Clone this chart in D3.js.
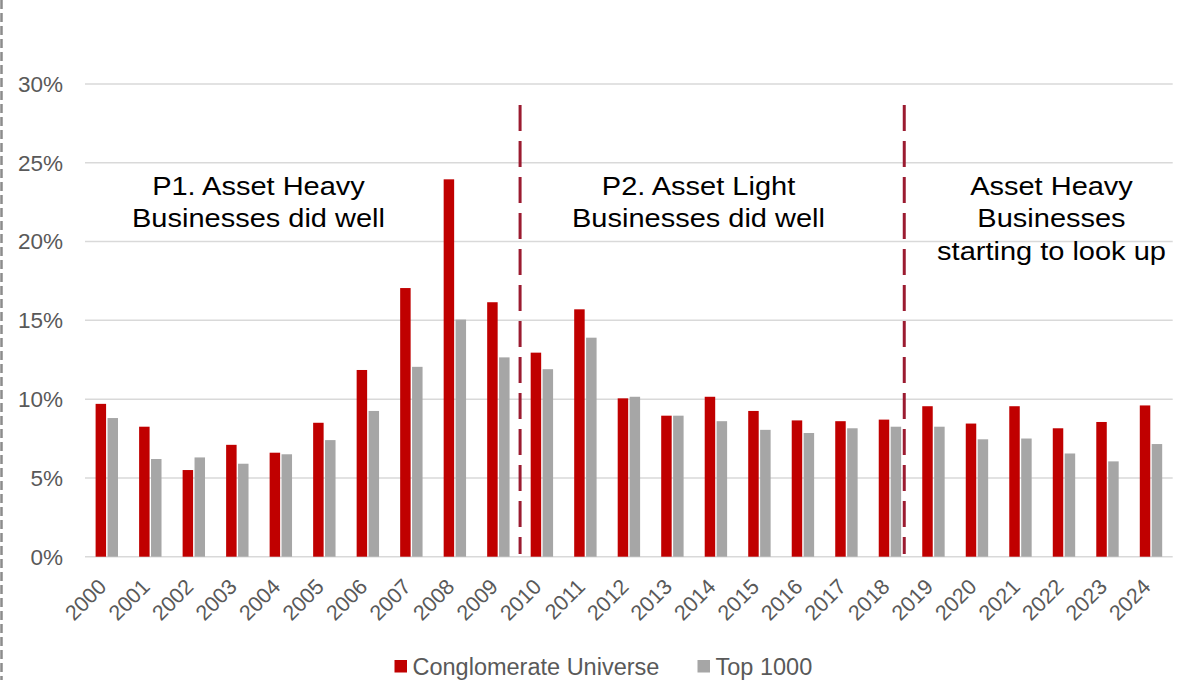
<!DOCTYPE html>
<html>
<head>
<meta charset="utf-8">
<script src="https://cdn.jsdelivr.net/npm/d3@7"></script>
<style>
  body { margin: 0; background: #fff; }
  svg { display: block; font-family: Arial, "Liberation Sans", sans-serif; }
</style>
</head>
<body>
<svg></svg>
<script>
// data (percent)
var years = ["2000","2001","2002","2003","2004","2005","2006","2007","2008","2009","2010","2011","2012",
             "2013","2014","2015","2016","2017","2018","2019","2020","2021","2022","2023","2024"];
var conglomerate = [9.7, 8.25, 5.5, 7.1, 6.6, 8.5, 11.85, 17.05, 23.95, 16.15, 12.95, 15.7, 10.05,
                    8.95, 10.15, 9.25, 8.65, 8.6, 8.7, 9.55, 8.45, 9.55, 8.15, 8.55, 9.6];
var top1000 = [8.8, 6.2, 6.3, 5.9, 6.5, 7.4, 9.25, 12.05, 15.05, 12.65, 11.9, 13.9, 10.15,
               8.95, 8.6, 8.05, 7.85, 8.15, 8.25, 8.25, 7.45, 7.5, 6.55, 6.05, 7.15];
var seriesNames = ["Conglomerate Universe", "Top 1000"];
var yTicks = [0, 5, 10, 15, 20, 25, 30];
var periodBreaks = ["2010", "2018"];
var notes = [
  ["P1. Asset Heavy", "Businesses did well"],
  ["P2. Asset Light", "Businesses did well"],
  ["Asset Heavy", "Businesses", "starting to look up"]
];

var W = 1185, H = 680;
var colors = {"Conglomerate Universe": "#C00000", "Top 1000": "#A6A6A6"};

var svg = d3.select("svg").attr("width", W).attr("height", H);

var rows = years.map(function(y, i){
  return {year: y, values: [
    {key: seriesNames[0], v: conglomerate[i]},
    {key: seriesNames[1], v: top1000[i]}
  ]};
});

var x0 = d3.scaleBand().domain(years).range([85, 1172.7]).padding(0);
var x1 = d3.scaleBand().domain(seriesNames).range([10.6, 33]).paddingInner(0.12);
var y = d3.scaleLinear().domain([0, 30]).range([556.7, 84]);

// left dashed frame edge
svg.append("line")
  .attr("x1", 1.5).attr("x2", 1.5).attr("y1", 0).attr("y2", H)
  .attr("stroke", "#8c8c8c").attr("stroke-width", 2.5)
  .attr("stroke-dasharray", "9,4");

// gridlines
svg.append("g").selectAll("line")
  .data(yTicks).enter().append("line")
  .attr("x1", x0.range()[0]).attr("x2", x0.range()[1])
  .attr("y1", function(d){ return y(d); }).attr("y2", function(d){ return y(d); })
  .attr("stroke", "#D9D9D9").attr("stroke-width", 1.5);

// y tick labels
svg.append("g").selectAll("text")
  .data(yTicks).enter().append("text")
  .attr("x", 63).attr("y", function(d){ return y(d); })
  .attr("dy", "0.35em")
  .attr("text-anchor", "end")
  .attr("fill", "#595959")
  .style("font-size", "22.5px")
  .text(function(d){ return d + "%"; });

// bars
var groups = svg.append("g").selectAll("g")
  .data(rows).enter().append("g")
  .attr("transform", function(d){ return "translate(" + x0(d.year) + ",0)"; });

groups.selectAll("rect")
  .data(function(d){ return d.values; }).enter().append("rect")
  .attr("x", function(d){ return x1(d.key); })
  .attr("width", x1.bandwidth())
  .attr("y", function(d){ return y(d.v); })
  .attr("height", function(d){ return y(0) - y(d.v); })
  .attr("fill", function(d){ return colors[d.key]; });

// x tick labels
svg.append("g").selectAll("text")
  .data(years).enter().append("text")
  .attr("transform", function(d){
    return "translate(" + (x0(d) + x0.bandwidth() / 2 + 1) + ",588) rotate(-45)";
  })
  .attr("text-anchor", "end")
  .attr("fill", "#595959")
  .style("font-size", "21.5px")
  .text(function(d){ return d; });

// period dividers
var breakX = [x0(periodBreaks[0]), x0(periodBreaks[1]) + x0.bandwidth() * 0.83];
svg.append("g").selectAll("line")
  .data(breakX).enter().append("line")
  .attr("x1", function(d){ return d; }).attr("x2", function(d){ return d; })
  .attr("y1", 105).attr("y2", 554)
  .attr("stroke", "#9B1B30").attr("stroke-width", 3)
  .attr("stroke-dasharray", "26,10");

// period notes
var noteX = [258.5, 698.5, 1051.5];
notes.forEach(function(lines, i){
  var t = svg.append("text")
    .attr("transform", "translate(" + noteX[i] + ",195) scale(1.16,1)")
    .attr("text-anchor", "middle")
    .attr("fill", "#000")
    .style("font-size", "25px");
  t.selectAll("tspan")
    .data(lines).enter().append("tspan")
    .attr("x", 0)
    .attr("y", function(d, j){ return j * 32.5; })
    .text(function(d){ return d; });
});

// legend
var legX = [394.5, 697.5];
var leg = svg.append("g").selectAll("g")
  .data(seriesNames).enter().append("g")
  .attr("transform", function(d, i){ return "translate(" + legX[i] + ",660)"; });
leg.append("rect")
  .attr("width", 12.5).attr("height", 12.5)
  .attr("fill", function(d){ return colors[d]; });
leg.append("text")
  .attr("x", 18).attr("y", 14.5)
  .attr("fill", "#595959")
  .style("font-size", "23.5px")
  .text(function(d){ return d; });
</script>
</body>
</html>
